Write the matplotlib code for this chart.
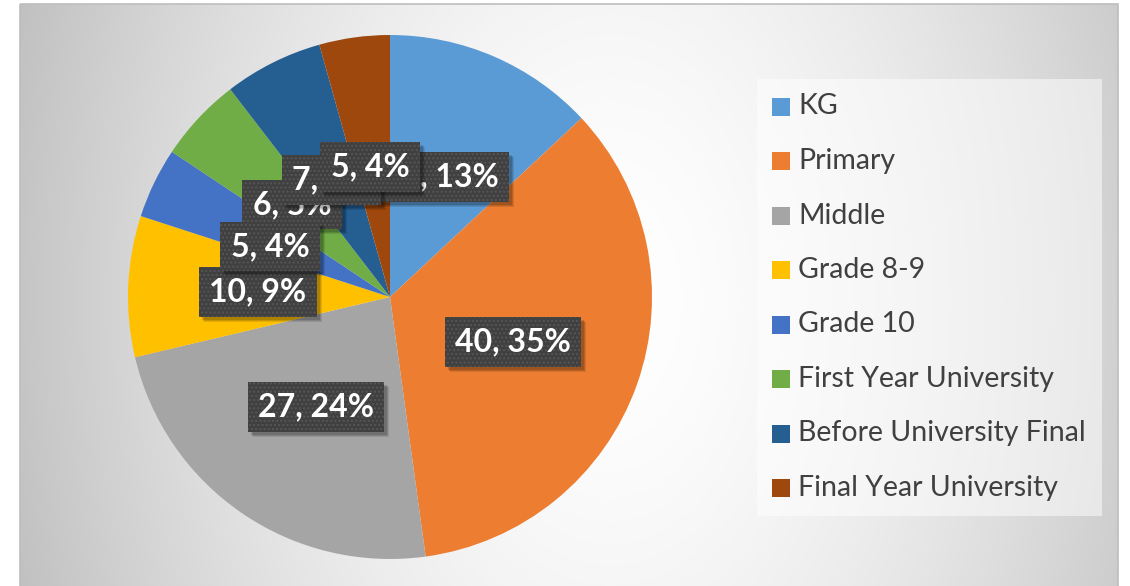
import numpy as np
import matplotlib
matplotlib.use("Agg")
import matplotlib.pyplot as plt
from matplotlib.patches import Rectangle
import matplotlib.transforms as mtransforms

categories = ["KG", "Primary", "Middle", "Grade 8-9", "Grade 10",
              "First Year University", "Before University Final", "Final Year University"]
values = [15, 40, 27, 10, 5, 6, 7, 5]
percents = [13, 35, 24, 9, 4, 5, 6, 4]
colors = ["#5B9BD5", "#ED7D31", "#A5A5A5", "#FFC000", "#4472C4",
          "#70AD47", "#255E91", "#9E480E"]

W, H = 1130, 586
fig = plt.figure(figsize=(W / 100, H / 100), dpi=100)
fig.patch.set_facecolor("white")

# background axes in pixel coordinates
bg = fig.add_axes([0, 0, 1, 1], zorder=0)
bg.set_xlim(0, W)
bg.set_ylim(H, 0)
bg.axis("off")

# chart area gradient
x0, x1, y0, y1 = 20, 1118, 4, 590
xx, yy = np.meshgrid(np.linspace(x0, x1, 400), np.linspace(y0, y1, 200))
d = np.sqrt(((xx - 610) / 580.0) ** 2 + ((yy - 300) / 900.0) ** 2)
v = 255 - 56 * np.clip(d, 0, 1.2) ** 1.6
img = np.dstack([v, v, v]) / 255.0
bg.imshow(img, extent=(x0, x1, y1, y0), aspect="auto", interpolation="bilinear", zorder=0)
bg.add_patch(Rectangle((x0, y0), x1 - x0, y1 - y0, fill=False, ec="#bdbdbd", lw=1.2, zorder=1))

# legend box
bg.add_patch(Rectangle((757, 79), 345, 437, fc="white", alpha=0.5, ec="none", zorder=2))
for i, (cat, col) in enumerate(zip(categories, colors)):
    yc = 106.5 + i * 54.5
    bg.add_patch(Rectangle((772, yc - 9), 18, 18, fc=col, ec="none", zorder=3))
    bg.text(798, yc, cat, fontsize=20.5, family="Lato", color="#404040",
            va="center", ha="left", zorder=3)

# pie axes
cx, cy, r = 390, 297, 262
ax = fig.add_axes([(cx - r) / W, (H - cy - r) / H, 2 * r / W, 2 * r / H], zorder=1)
ax.pie(values, colors=colors, startangle=90, counterclock=False, radius=1,
       wedgeprops=dict(linewidth=0))
ax.set_xlim(-1, 1)
ax.set_ylim(-1, 1)
ax.axis("off")

label_pos = [(0.195, 0.458), (0.469, -0.172), (-0.282, -0.420), (-0.504, 0.019),
             (-0.458, 0.193), (-0.374, 0.353), (-0.225, 0.447), (-0.076, 0.496)]
zorders = [3, 3, 3, 4, 7, 5, 6, 8]

for val, pct, (lx, ly), z in zip(values, percents, label_pos, zorders):
    s = f"{val}, {pct}%"
    # soft shadow: a few stacked translucent boxes
    for k, a in [(5, 0.10), (4, 0.12), (3, 0.14)]:
        tr = ax.transData + mtransforms.ScaledTranslation(k / 100, -k / 100, fig.dpi_scale_trans)
        ax.text(lx, ly, s, fontsize=23, family="Lato", fontweight="bold", color=(0, 0, 0, 0),
                ha="center", va="center", transform=tr, zorder=z,
                bbox=dict(boxstyle="square,pad=0.32", fc="black", alpha=a, ec="none"))
    ax.text(lx, ly, s, fontsize=23, family="Lato", fontweight="bold", color="white",
            ha="center", va="center", zorder=z + 0.1,
            bbox=dict(boxstyle="square,pad=0.32", fc="#404040", ec="#565656", lw=0,
                      hatch="...."))

fig.savefig("out.png", dpi=100)
